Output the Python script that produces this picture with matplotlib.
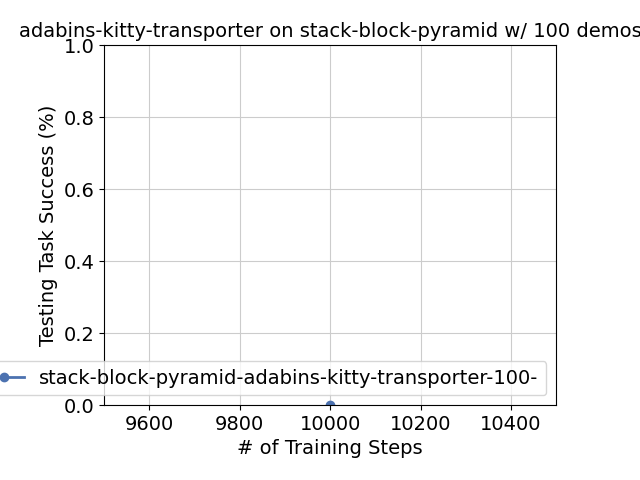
import matplotlib
matplotlib.use('Agg')
import matplotlib.pyplot as plt

steps = [10000]
success = [0.0]
label = 'stack-block-pyramid-adabins-kitty-transporter-100-'
title = 'adabins-kitty-transporter on stack-block-pyramid w/ 100 demos'

plt.rcParams['font.size'] = 14
fig, ax = plt.subplots(figsize=(6.4, 4.8), dpi=100)
ax.plot(steps, success, marker='o', color='#4c72b0', linewidth=2, label=label)
ax.set_xlim(9500, 10500)
ax.set_ylim(0, 1)
ax.grid(True, color='#cccccc')
ax.set_axisbelow(True)
ax.set_xlabel('# of Training Steps')
ax.set_ylabel('Testing Task Success (%)')
ax.set_title(title, fontsize=14)
ax.legend(loc='lower right')
fig.subplots_adjust(left=0.1625, right=0.869, top=0.906, bottom=0.156)
plt.savefig('out.png')
